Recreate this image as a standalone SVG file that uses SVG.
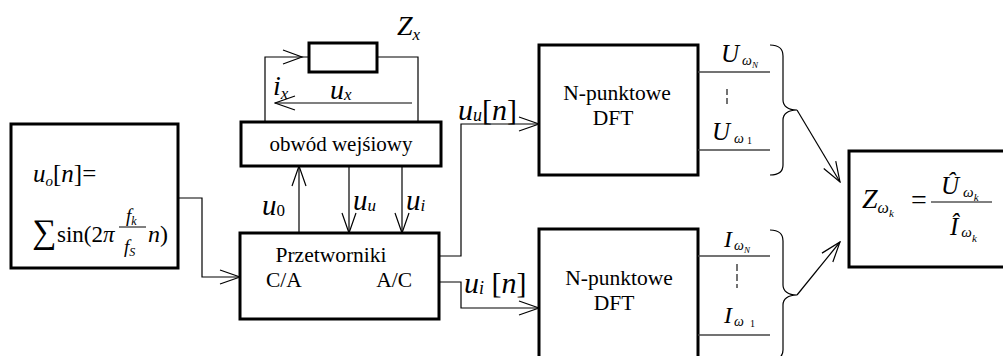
<svg xmlns="http://www.w3.org/2000/svg" width="1003" height="356" viewBox="0 0 1003 356" font-family="'Liberation Serif', 'DejaVu Serif', serif">
<style>
text{font-family:'Liberation Serif','DejaVu Serif',serif;fill:#000}
.box{fill:#fff;stroke:#000;stroke-width:3}
.w{fill:none;stroke:#000;stroke-width:1.2}
.out{fill:none;stroke:#444;stroke-width:1.5}
.it{font-style:italic}
.lbl{font-size:21.5px;text-anchor:middle}
</style>
<defs>
<marker id="ah" markerUnits="userSpaceOnUse" markerWidth="22" markerHeight="16" refX="20" refY="7" orient="auto" viewBox="-1 -1 22 16">
<path d="M0,0 L20,7 L0,14" fill="none" stroke="#000" stroke-width="1.2"/>
</marker>
</defs>

<g id="source">
<rect class="box" x="11" y="124" width="167" height="144"/>
<text x="33" y="182" font-size="25"><tspan class="it">u</tspan><tspan class="it" font-size="15" dy="4">o</tspan><tspan dy="-4">[</tspan><tspan class="it">n</tspan>]=</text>
<text x="32" y="243" font-size="34">∑</text>
<text x="57" y="242" font-size="23">sin(2<tspan class="it">π</tspan></text>
<line x1="119" y1="227" x2="146" y2="227" stroke="#000" stroke-width="1"/>
<text x="126" y="222" font-size="19" class="it">f<tspan font-size="12" dy="3">k</tspan></text>
<text x="124" y="253" font-size="19" class="it">f<tspan font-size="12" dy="3">S</tspan></text>
<text x="148" y="242" font-size="24"><tspan class="it">n</tspan>)</text>
</g>

<g id="resistor">
<rect x="309" y="43" width="68" height="29" fill="#fff" stroke="#000" stroke-width="3"/>
<text x="397" y="35" font-size="28" class="it">Z<tspan font-size="17" dy="5">x</tspan></text>
</g>

<g id="input-circuit">
<rect class="box" x="241" y="122" width="200" height="44"/>
<text x="341" y="151" font-size="21" text-anchor="middle">obwód wejśiowy</text>
</g>

<g id="converters">
<rect class="box" x="240" y="233" width="199" height="86"/>
<text x="331" y="262" font-size="21.5" text-anchor="middle">Przetworniki</text>
<text x="266" y="287" font-size="21.5">C/A</text>
<text x="412" y="287" font-size="21.5" text-anchor="end">A/C</text>
</g>

<g id="dft-u">
<rect class="box" x="539" y="45" width="159" height="130"/>
<text x="617" y="100" class="lbl">N-punktowe</text>
<text x="613" y="125" class="lbl">DFT</text>
</g>

<g id="dft-i">
<rect class="box" x="539" y="229" width="159" height="150"/>
<text x="619" y="285" class="lbl">N-punktowe</text>
<text x="614" y="310" class="lbl">DFT</text>
</g>

<g id="impedance">
<rect class="box" x="849" y="151" width="200" height="116"/>
<text x="862" y="208" font-size="28" class="it">Z<tspan font-size="16" dy="5">ω</tspan><tspan font-size="11" dy="4">k</tspan></text>
<text x="911" y="209" font-size="28">=</text>
<line x1="931" y1="202" x2="992" y2="202" stroke="#000" stroke-width="1"/>
<text x="941" y="194" font-size="25" class="it">Û<tspan font-size="15" dy="3" dx="4">ω</tspan><tspan font-size="11" dy="4">k</tspan></text>
<text x="950" y="235" font-size="25" class="it">Î<tspan font-size="15" dy="2" dx="3">ω</tspan><tspan font-size="11" dy="5">k</tspan></text>
</g>

<g id="connectors">
<path class="w" d="M178,198 H202 V277 H240" marker-end="url(#ah)"/>
<path class="w" d="M265,122 V57 H309"/>
<path class="w" d="M283,50 L302,57 L283,64"/>
<path class="w" d="M377,57 H418 V122"/>
<path class="w" d="M412,103 H275" marker-end="url(#ah)"/>
<path class="w" d="M299,233 V166" marker-end="url(#ah)"/>
<path class="w" d="M349,166 V233" marker-end="url(#ah)"/>
<path class="w" d="M402,166 V233" marker-end="url(#ah)"/>
<path class="w" d="M439,256 H461 V124 H539" marker-end="url(#ah)"/>
<path class="w" d="M439,282 H461 V308 H539" marker-end="url(#ah)"/>
<line class="out" x1="698" y1="72" x2="770" y2="72"/>
<line class="out" x1="698" y1="150" x2="770" y2="150"/>
<line class="out" x1="727" y1="89" x2="727" y2="105" stroke-dasharray="6,3"/>
<line class="out" x1="698" y1="256" x2="770" y2="256"/>
<line class="out" x1="698" y1="335" x2="770" y2="335"/>
<line class="out" x1="737" y1="264" x2="737" y2="288" stroke-dasharray="7,3"/>
<path class="w" d="M770,45 C778,45 783,48 783,56 V100 C783,106 788,110 797,110 C788,110 783,114 783,120 V165 C783,172 778,175 770,175"/>
<path class="w" d="M770,230 C778,230 783,233 783,241 V285 C783,291 788,295 797,295 C788,295 783,299 783,305 V350 C783,357 778,360 770,360"/>
<path class="w" d="M797,110 L840,182" marker-end="url(#ah)"/>
<path class="w" d="M797,295 L840,242" marker-end="url(#ah)"/>
</g>

<g id="labels">
<text x="273" y="95" font-size="28" class="it">i<tspan font-size="17" dy="4">x</tspan></text>
<text x="330" y="99" font-size="28" class="it">u<tspan font-size="17" dy="1">x</tspan></text>
<text x="262" y="215" font-size="29"><tspan class="it">u</tspan><tspan font-size="17" dy="1">0</tspan></text>
<text x="353" y="210" font-size="29" class="it">u<tspan font-size="17" dy="1">u</tspan></text>
<text x="406" y="210" font-size="29" class="it">u<tspan font-size="17" dy="1">i</tspan></text>
<text x="458" y="120" font-size="30"><tspan class="it">u</tspan><tspan class="it" font-size="18" dy="1">u</tspan><tspan dy="-1">[</tspan><tspan class="it">n</tspan>]</text>
<text x="464" y="293" font-size="30"><tspan class="it">u</tspan><tspan class="it" font-size="18" dy="1">i</tspan><tspan dy="-1"> [</tspan><tspan class="it">n</tspan>]</text>
<text x="721" y="62" font-size="25" class="it">U<tspan font-size="14" dy="3" dx="3">ω</tspan><tspan font-size="9" dy="3">N</tspan></text>
<text x="712" y="140" font-size="25" class="it">U<tspan font-size="14" dy="3" dx="4">ω</tspan><tspan font-size="10" dy="1" dx="3" font-style="normal">1</tspan></text>
<text x="724" y="247" font-size="24" class="it">I<tspan font-size="14" dy="3" dx="2">ω</tspan><tspan font-size="9" dy="3">N</tspan></text>
<text x="724" y="323" font-size="24" class="it">I<tspan font-size="14" dy="3" dx="2">ω</tspan><tspan font-size="10" dy="1" dx="6" font-style="normal">1</tspan></text>
</g>
</svg>
